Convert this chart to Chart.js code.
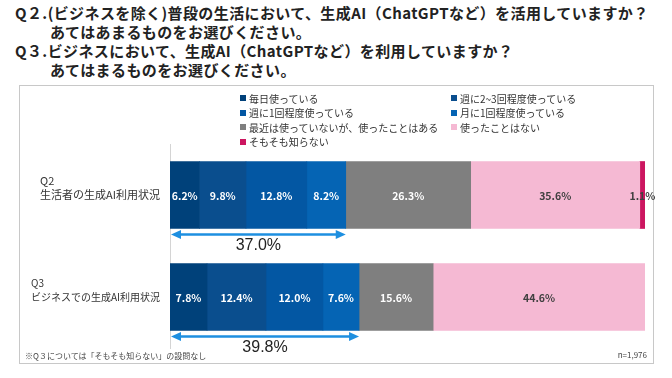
<!DOCTYPE html>
<html lang="ja">
<head>
<meta charset="utf-8">
<script src="https://cdn.jsdelivr.net/npm/chart.js@4"></script>
<style>
    html, body { margin: 0; padding: 0; background: #fff; }
    #page { position: relative; width: 672px; height: 378px; overflow: hidden; font-family: "Noto Sans CJK JP", "Noto Sans", sans-serif; }
    #title { position: absolute; left: 15px; top: 3px; font-size: 15px; font-weight: bold; line-height: 19px; letter-spacing: 0.4px; color: #222; white-space: nowrap; }
    #title .sub { padding-left: 35px; }
    #frame { position: absolute; left: 19px; top: 85px; width: 633px; height: 277px; border: 1px solid #c8c8c8; }
    #chart-wrap { position: absolute; left: 0; top: 0; width: 672px; height: 378px; }
    #legend { position: absolute; left: 240px; top: 91px; display: grid; grid-template-columns: 211px 200px; grid-auto-rows: 14.5px; font-size: 10px; color: #333; }
    #legend .item { display: flex; align-items: center; white-space: nowrap; }
    #legend .box { width: 6px; height: 6px; margin-right: 3px; }
    .note { position: absolute; font-size: 8px; color: #444; white-space: nowrap; }
</style>
</head>
<body>
<div id="page">
    <div id="frame"></div>
    <div id="title">
        <div>Q２.(ビジネスを除く)普段の生活において、生成AI（ChatGPTなど）を活用していますか？</div>
        <div class="sub">あてはあまるものをお選びください。</div>
        <div>Q３.ビジネスにおいて、生成AI（ChatGPTなど）を利用していますか？</div>
        <div class="sub">あてはまるものをお選びください。</div>
    </div>
    <div id="chart-wrap"><canvas id="chart" width="672" height="378"></canvas></div>
    <div id="legend"></div>
    <div class="note" style="left:25px; top:350px;">※Q３については「そもそも知らない」の設問なし</div>
    <div class="note" style="right:25px; top:349px;">n=1,976</div>
</div>
<script>
const categories = [["Q2", "生活者の生成AI利用状況"], ["Q3", "ビジネスでの生成AI利用状況"]];
const seriesNames = [
    "毎日使っている",
    "週に2~3回程度使っている",
    "週に1回程度使っている",
    "月に1回程度使っている",
    "最近は使っていないが、使ったことはある",
    "使ったことはない",
    "そもそも知らない",
];
const q2Values = [6.2, 9.8, 12.8, 8.2, 26.3, 35.6, 1.1];
const q3Values = [7.8, 12.4, 12.0, 7.6, 15.6, 44.6, null];
const usingTotals = [37.0, 39.8];
const seriesColors = ["#00417a", "#0a4e8e", "#0357a3", "#0564b4", "#7f7f7f", "#f5b9d3", "#cc1660"];
const darkLabelSeries = [5, 6];

// legend in a 2-column grid like the original
document.getElementById("legend").innerHTML = seriesNames
    .map((name, i) => `<div class="item"><span class="box" style="background:${seriesColors[i]}"></span>${name}</div>`)
    .join("");

const categoryLabels = {
    id: "categoryLabels",
    afterDraw(chart) {
        const { ctx, scales } = chart;
        const fonts = ["11px 'Noto Sans CJK JP'", "10px 'Noto Sans CJK JP'"];
        const right = 160;
        ctx.save();
        ctx.fillStyle = "#333";
        ctx.textBaseline = "middle";
        ctx.textAlign = "left";
        categories.forEach((lines, i) => {
            ctx.font = fonts[i];
            const w = Math.max(...lines.map((l) => ctx.measureText(l).width));
            const yc = scales.y.getPixelForValue(i);
            ctx.fillText(lines[0], right - w, yc - 14);
            ctx.fillText(lines[1], right - w, yc);
        });
        ctx.restore();
    },
};

const valueLabels = {
    id: "valueLabels",
    afterDatasetsDraw(chart) {
        const { ctx } = chart;
        ctx.save();
        ctx.font = "bold 10.5px 'Noto Sans CJK JP'";
        ctx.textAlign = "center";
        ctx.textBaseline = "middle";
        chart.data.datasets.forEach((ds, di) => {
            chart.getDatasetMeta(di).data.forEach((el, i) => {
                const v = ds.data[i];
                if (v === null || v === undefined) return;
                const p = el.getCenterPoint();
                ctx.fillStyle = darkLabelSeries.includes(di) ? "#404040" : "#fff";
                ctx.fillText(v.toFixed(1) + "%", p.x, p.y + 1);
            });
        });
        ctx.restore();
    },
};

const usageArrows = {
    id: "usageArrows",
    afterDraw(chart) {
        const { ctx, scales } = chart;
        const meta = chart.getDatasetMeta(0);
        ctx.save();
        usingTotals.forEach((total, i) => {
            const el = meta.data[i];
            const y = el.y + el.height / 2 + 6;
            const x0 = scales.x.getPixelForValue(0) + 1;
            const x1 = scales.x.getPixelForValue(total);
            ctx.strokeStyle = "#1e8fe0";
            ctx.fillStyle = "#1e8fe0";
            ctx.lineWidth = 2.5;
            ctx.beginPath();
            ctx.moveTo(x0 + 8, y);
            ctx.lineTo(x1 - 8, y);
            ctx.stroke();
            ctx.beginPath();
            ctx.moveTo(x0, y);
            ctx.lineTo(x0 + 10, y - 4.5);
            ctx.lineTo(x0 + 10, y + 4.5);
            ctx.closePath();
            ctx.fill();
            ctx.beginPath();
            ctx.moveTo(x1, y);
            ctx.lineTo(x1 - 10, y - 4.5);
            ctx.lineTo(x1 - 10, y + 4.5);
            ctx.closePath();
            ctx.fill();
            ctx.fillStyle = "#222";
            ctx.font = "16px 'Liberation Sans'";
            ctx.textAlign = "center";
            ctx.textBaseline = "middle";
            ctx.fillText(total.toFixed(1) + "%", (x0 + x1) / 2, y + 11);
        });
        ctx.restore();
    },
};

new Chart(document.getElementById("chart"), {
    type: "bar",
    data: {
        labels: categories,
        datasets: seriesNames.map((name, i) => ({
            label: name,
            data: [q2Values[i], q3Values[i]],
            backgroundColor: seriesColors[i],
            borderWidth: 0,
            barThickness: 67,
        })),
    },
    options: {
        indexAxis: "y",
        responsive: false,
        animation: false,
        events: [],
        layout: { padding: { left: 170, right: 27, top: 144, bottom: 30 } },
        plugins: { legend: { display: false }, tooltip: { enabled: false } },
        scales: {
            x: { stacked: true, min: 0, max: 100, display: false },
            y: {
                stacked: true,
                grid: { display: false },
                border: { display: true, color: "#d4d4d4" },
                ticks: { display: false },
                afterFit: (scale) => { scale.width = 0; },
            },
        },
    },
    plugins: [categoryLabels, valueLabels, usageArrows],
});
</script>
</body>
</html>
